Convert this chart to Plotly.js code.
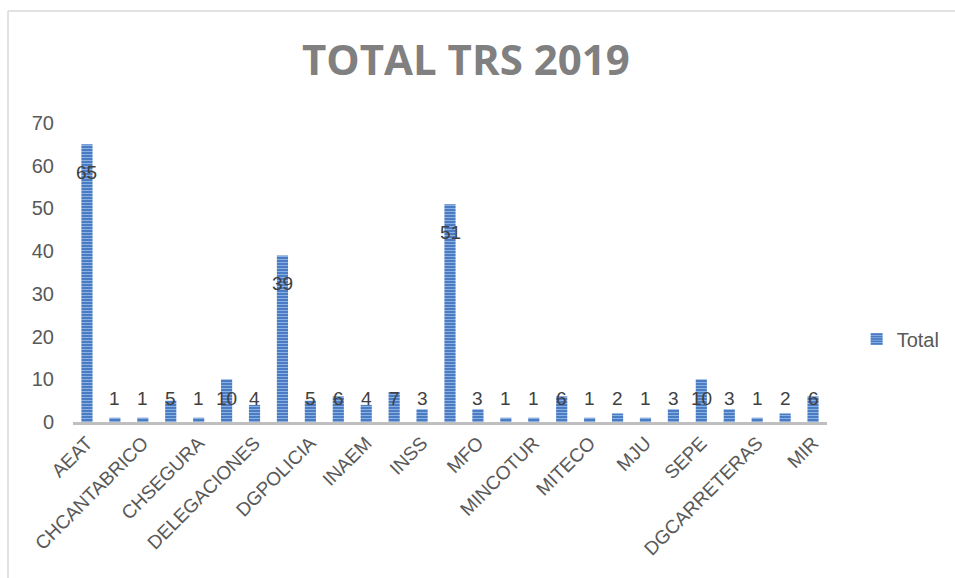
<!DOCTYPE html>
<html>
<head>
<meta charset="utf-8">
<script src="https://cdn.plot.ly/plotly-3.0.1.min.js"></script>
<style>
  html, body { margin: 0; padding: 0; background: #ffffff; }
  #chart { width: 955px; height: 578px; }
</style>
</head>
<body>
<div id="chart"></div>
<script>
// 27 bars, Excel only prints every other category name
var categories = ['AEAT', '', 'CHCANTABRICO', '', 'CHSEGURA', '', 'DELEGACIONES', '',
  'DGPOLICIA', '', 'INAEM', '', 'INSS', '', 'MFO', '', 'MINCOTUR', '', 'MITECO', '',
  'MJU', '', 'SEPE', '', 'DGCARRETERAS', '', 'MIR'];
var totals = [65, 1, 1, 5, 1, 10, 4, 39, 5, 6, 4, 7, 3, 51, 3, 1, 1, 6, 1, 2, 1, 3, 10, 3, 1, 2, 6];
var yTicks = [0, 10, 20, 30, 40, 50, 60, 70];

var xPos = categories.map(function (c, i) { return i; });
var tickPos = xPos.filter(function (i) { return categories[i] !== ''; });
var tickText = tickPos.map(function (i) { return categories[i]; });

var data = [{
  type: 'bar',
  name: 'Total',
  x: xPos,
  y: totals,
  marker: {
    color: '#4a7cc4',
    line: {width: 0},
    pattern: {shape: '-', bgcolor: '#4a7cc4', fgcolor: '#8cb0e2', size: 3, solidity: 0.35}
  },
  hoverinfo: 'x+y'
}];

// data labels: sit inside near the top for tall bars, on a common line for short ones
var labels = totals.map(function (v, i) {
  var tall = v > 12;
  return {
    x: i, y: tall ? v : 0,
    xref: 'x', yref: 'y',
    text: String(v),
    showarrow: false,
    yanchor: 'middle',
    yshift: tall ? -28 : 24,
    font: {family: 'Liberation Sans, Arial', size: 19, color: '#404040'}
  };
});

var layout = {
  width: 955,
  height: 578,
  margin: {l: 73, r: 128, t: 123, b: 156, autoexpand: false},
  paper_bgcolor: '#ffffff',
  plot_bgcolor: '#ffffff',
  font: {family: 'Liberation Sans, Arial', size: 19, color: '#595959'},
  title: {
    text: '<b>TOTAL TRS 2019</b>',
    xref: 'paper', x: 0.521, xanchor: 'center',
    y: 0.896, yanchor: 'middle',
    font: {family: 'Open Sans, Liberation Sans', size: 42, color: '#808080'}
  },
  bargap: 0.6,
  showlegend: true,
  legend: {
    xref: 'container', x: 0.897, xanchor: 'left',
    yref: 'container', y: 0.4135, yanchor: 'middle',
    font: {size: 20, color: '#595959'},
    itemwidth: 30
  },
  xaxis: {
    range: [-0.5, 26.5],
    tickmode: 'array',
    tickvals: tickPos,
    ticktext: tickText,
    tickangle: -45,
    ticks: '',
    showgrid: false,
    zeroline: false,
    showline: true,
    linecolor: '#bfbfbf',
    linewidth: 2.5,
    tickfont: {size: 19, color: '#595959'}
  },
  yaxis: {
    range: [0, 70],
    tickmode: 'array',
    tickvals: yTicks,
    ticks: '',
    showgrid: false,
    zeroline: false,
    showline: false,
    ticklabelstandoff: 18,
    tickfont: {size: 20, color: '#595959'}
  },
  annotations: labels,
  shapes: [
    {type: 'line', xref: 'paper', yref: 'paper', x0: -0.0862, x1: 1.2, y0: 1.375, y1: 1.375,
     line: {color: '#d9d9d9', width: 1.5}},
    {type: 'line', xref: 'paper', yref: 'paper', x0: -0.0862, x1: -0.0862, y0: 1.375, y1: -0.53,
     line: {color: '#d9d9d9', width: 1.5}}
  ]
};

Plotly.newPlot('chart', data, layout, {displayModeBar: false, staticPlot: true});
</script>
</body>
</html>
